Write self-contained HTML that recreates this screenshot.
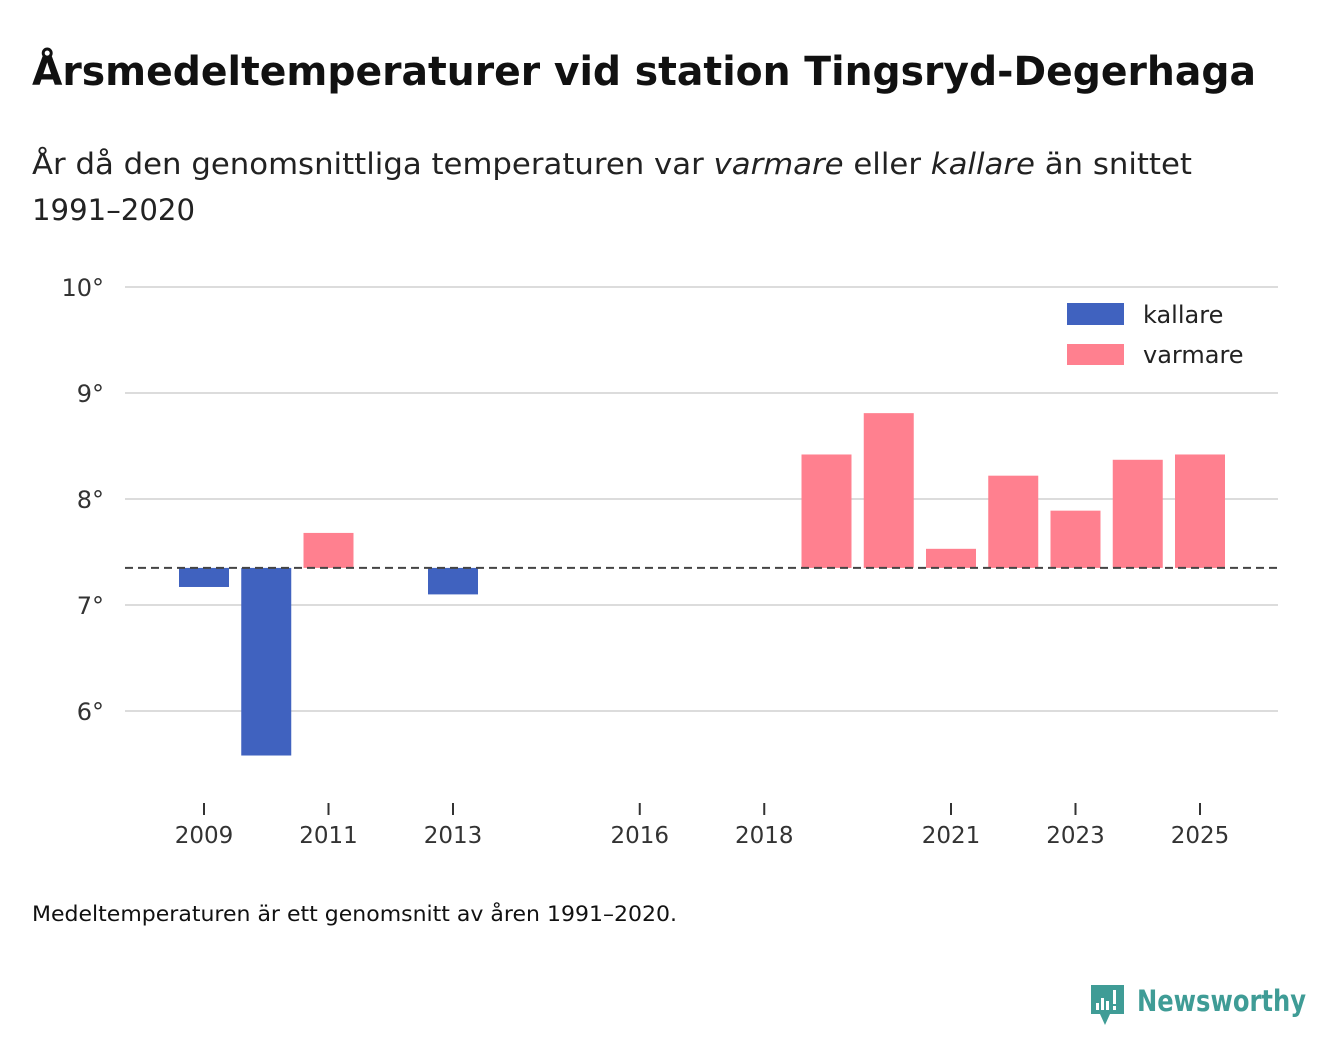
<!DOCTYPE html>
<html><head><meta charset="utf-8"><style>
body{margin:0;background:#fff;font-family:"Liberation Sans",sans-serif}
svg text{font-family:"DejaVu Sans","Liberation Sans",sans-serif}
</style></head><body>
<svg id="chart" width="1340" height="1056" xmlns="http://www.w3.org/2000/svg">
<text x="32" y="85" font-size="40" font-weight="bold" fill="#111" textLength="1224" lengthAdjust="spacingAndGlyphs">Årsmedeltemperaturer vid station Tingsryd-Degerhaga</text>
<text x="32" y="174" font-size="29" fill="#222" textLength="1160" lengthAdjust="spacingAndGlyphs">År då den genomsnittliga temperaturen var <tspan font-style="italic">varmare</tspan> eller <tspan font-style="italic">kallare</tspan> än snittet</text>
<text x="32" y="220" font-size="29" fill="#222" textLength="163" lengthAdjust="spacingAndGlyphs">1991–2020</text>
<g id="grid"></g><g id="bars"></g><g id="xaxis"></g>
<g>
<rect x="1067" y="303" width="57" height="22" fill="#4062bf"/>
<text x="1143" y="323" font-size="24" fill="#222">kallare</text>
<rect x="1067" y="344" width="57" height="21" fill="#ff808f"/>
<text x="1143" y="363" font-size="24" fill="#222">varmare</text>
</g>
<text x="32" y="921" font-size="21" fill="#111" textLength="645" lengthAdjust="spacingAndGlyphs">Medeltemperaturen är ett genomsnitt av åren 1991–2020.</text>
<g>
<path d="M1091 985 h33 v29 h-14 l-5 11 l-5 -11 h-9 z" fill="#3f9c96"/>
<rect x="1096" y="1003" width="3" height="7" fill="#fff"/><rect x="1101" y="998" width="3" height="12" fill="#fff"/><rect x="1106" y="1001" width="3" height="9" fill="#fff"/><rect x="1113" y="990" width="3" height="14" fill="#fff"/><rect x="1113" y="1006" width="3" height="4" fill="#fff"/>
<text x="1137" y="1011" font-size="29" font-weight="bold" fill="#3f9c96" textLength="169" lengthAdjust="spacingAndGlyphs">Newsworthy</text>
</g>
</svg>
<script>
const years=[2009,2010,2011,2013,2019,2020,2021,2022,2023,2024,2025];
const temps=[7.17,5.58,7.68,7.10,8.42,8.81,7.53,8.22,7.89,8.37,8.42];
const baseline=7.35;
const yTicks=[6,7,8,9,10];
const xTicks=[2009,2011,2013,2016,2018,2021,2023,2025];
const NS="http://www.w3.org/2000/svg";
const y=v=>605-(v-7)*106;
const x=yr=>204+(yr-2009)*62.25;
function mk(tag,attrs,parent){const e=document.createElementNS(NS,tag);for(const k in attrs)e.setAttribute(k,attrs[k]);parent.appendChild(e);return e;}
const grid=document.getElementById('grid'),bars=document.getElementById('bars'),xa=document.getElementById('xaxis');
yTicks.forEach(t=>{
 const l=mk('line',{x1:125,x2:1278,y1:y(t),y2:y(t),stroke:'#dcdcdc','stroke-width':2},grid);
 
 
 const tx=mk('text',{x:104,y:y(t)+9,'font-size':24,fill:'#333','text-anchor':'end'},grid);
 tx.textContent=t+'°';
 
 
});
years.forEach((yr,i)=>{
 const v=temps[i];const top=Math.min(y(v),y(baseline)),h=Math.abs(y(v)-y(baseline));
 const r=mk('rect',{x:x(yr)-25,y:top,width:50,height:h,fill:v<baseline?'#4062bf':'#ff808f'},bars);
 
 
});
const bl=mk('line',{x1:125,x2:1278,y1:y(baseline),y2:y(baseline),stroke:'#444','stroke-width':2,'stroke-dasharray':'8,5'},bars);


xTicks.forEach(t=>{
 const l=mk('line',{x1:x(t),x2:x(t),y1:803,y2:815,stroke:'#333','stroke-width':2},xa);
 
 
 const tx=mk('text',{x:x(t),y:843,'font-size':23,fill:'#333','text-anchor':'middle'},xa);
 tx.textContent=t;
 
 
});
</script>
</body></html>
